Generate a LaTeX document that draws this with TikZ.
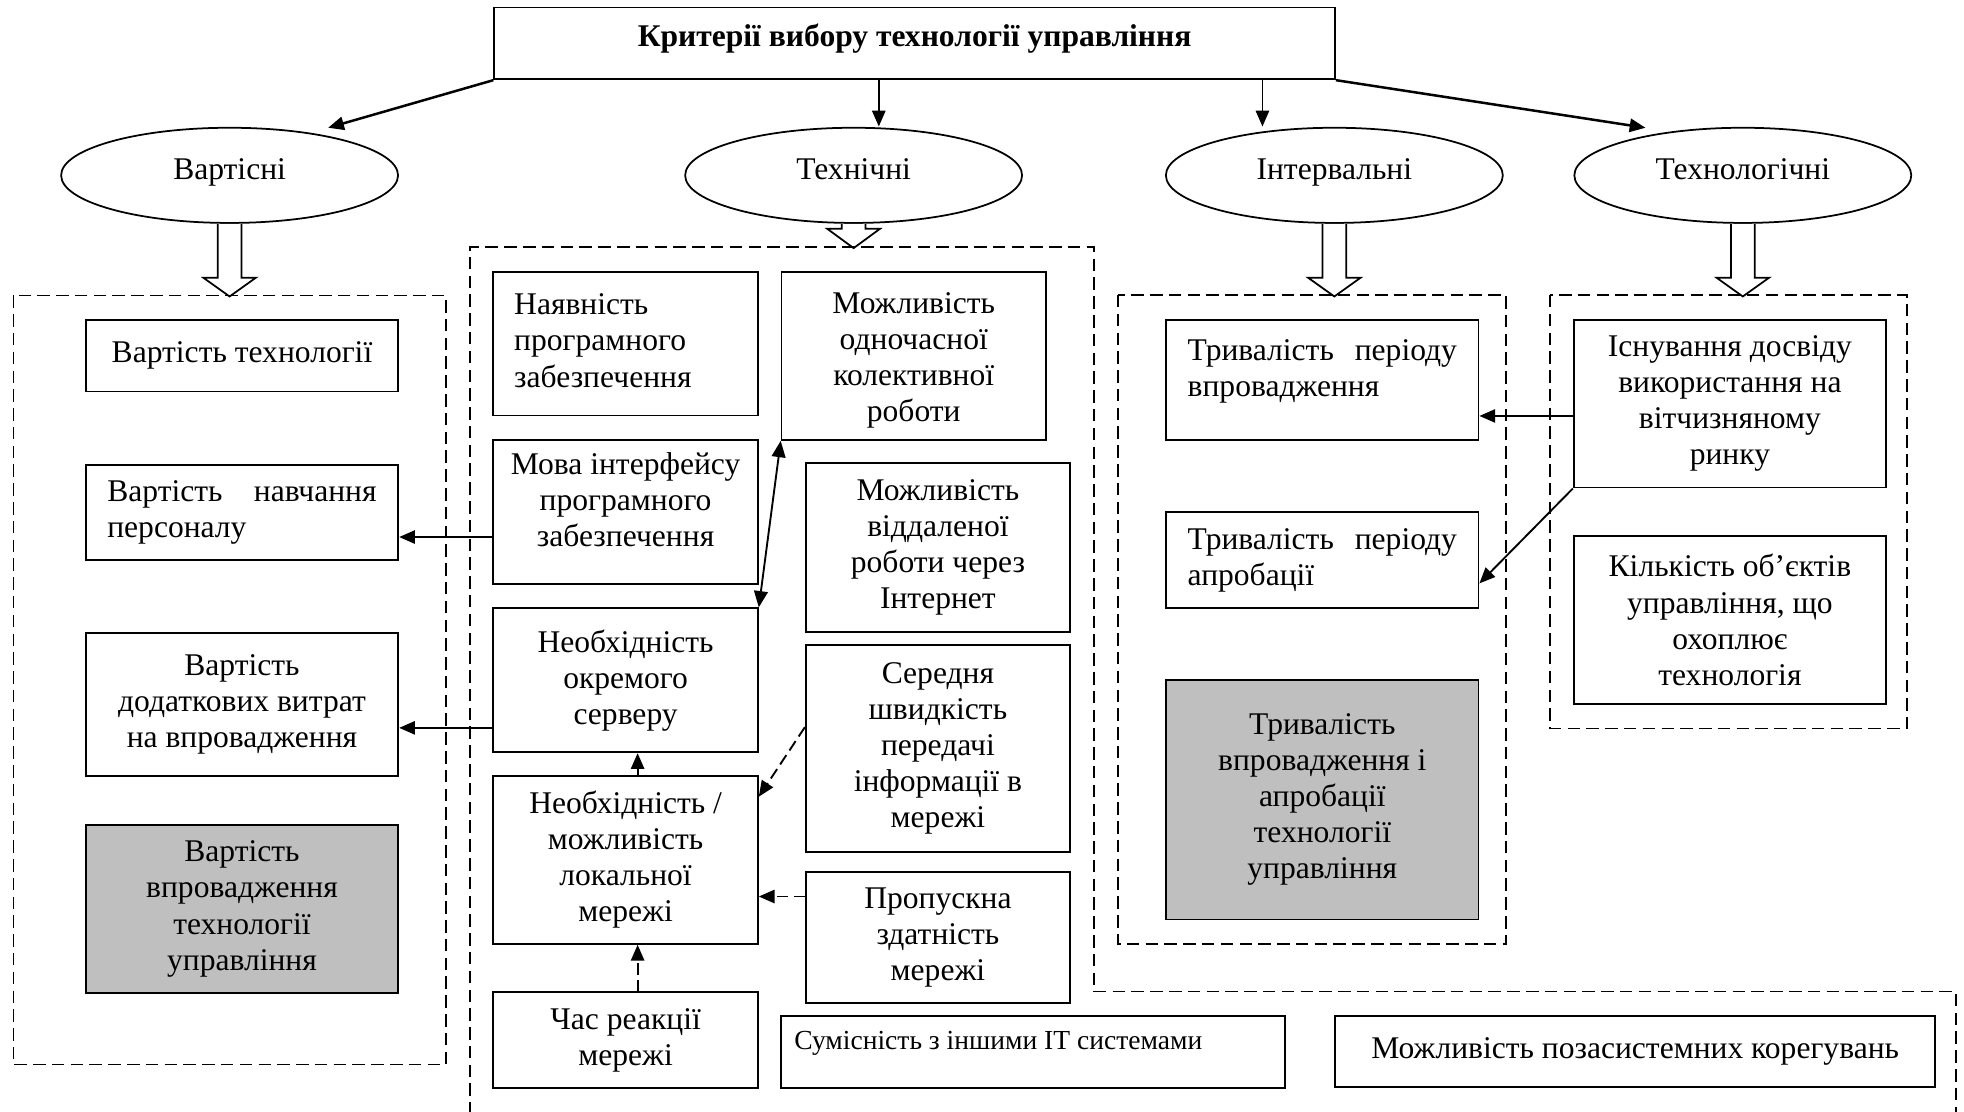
\documentclass[tikz,border=0pt]{standalone}
\usepackage{fontspec}
\setmainfont{Liberation Serif}
\usetikzlibrary{shapes.geometric,arrows.meta}
\begin{document}
\begin{tikzpicture}[x=0.5pt,y=-0.5pt,
  every node/.style={font=\fontsize{12.6}{14.4}\selectfont},
  box/.style={draw, line width=0.7pt, rectangle, inner sep=0pt, align=center},
  gbox/.style={box, fill=black!25},
  wh/.style 2 args={minimum width=#1, minimum height=#2},
  txt/.style={inner sep=0pt, align=center},
  oval/.style={draw, line width=0.7pt, ellipse, inner sep=0pt,
    minimum width=134.5pt, minimum height=38pt, text height=9pt, text depth=6pt},
  tip/.style={Triangle[length=6.3pt,width=5.3pt]},
  arr/.style={line width=0.75pt, -{Triangle[length=6.3pt,width=5.3pt]}},
  twoarr/.style={line width=0.75pt, {Triangle[length=6.5pt,width=5.5pt]}-{Triangle[length=6.5pt,width=5.5pt]}},
  darr/.style={arr, dash pattern=on 4.5pt off 2.2pt},
  grp/.style={line width=0.6pt, dash pattern=on 5pt off 2.5pt},
  hollow/.style={line width=0.7pt, fill=white},
]
\useasboundingbox (0,0) rectangle (1568,887);

% ---------- title and the four groups of criteria ----------
\node[box, wh={335.6pt}{28.7pt}, text height=8.7pt, text depth=6pt,
  font=\fontsize{12.6}{14.4}\selectfont\bfseries]
  (title) at (730.2,34.6) {Критерії вибору технології управління};

\node[oval] (cost)  at (183.3,140)  {Вартісні};
\node[oval] (tech)  at (681.5,140)  {Технічні};
\node[oval] (intv)  at (1065.3,140) {Інтервальні};
\node[oval] (techn) at (1391.4,140) {Технологічні};

\coordinate (costIn)  at (262,102);
\coordinate (techIn)  at (701.6,101);
\coordinate (intvIn)  at (1007.9,101);
\coordinate (technIn) at (1313.7,102);

\draw[arr, line width=1pt] (title.south west) -- (costIn);
\draw[arr] (title.south -| techIn) -- (techIn);
\draw[arr] (title.south -| intvIn) -- (intvIn);
\draw[arr, line width=1pt] (title.south east) -- (technIn);

% hollow block arrows from each group to its frame
\newcommand\blockarrow[3]{%
  \draw[hollow] (#1.south) ++(-9.5,0) -- ++(0,#2) -- ++(-11.5,0) -- ++(21,#3)
    -- ++(21,-#3) -- ++(-11.5,0) -- ++(0,-#2);}
\blockarrow{cost}{43}{15}
\blockarrow{tech}{4}{15.4}
\blockarrow{intv}{43}{15}
\blockarrow{techn}{43}{15}

% ---------- dashed frames ----------
\draw[grp] (10.6,235.8) rectangle (356,850);
\draw[grp] (375.2,890) -- (375.2,197.4) -- (873.5,197.4) -- (873.5,791.7)
  -- (1561.5,791.7) -- (1561.5,890);
\draw[grp] (892.7,235.5) rectangle (1202.3,753.6);
\draw[grp] (1237.5,235.5) rectangle (1522.6,581.5);

% ---------- cost criteria ----------
\node[box, wh={124.8pt}{28.6pt}] (vt) at (193.2,284) {Вартість технології};
\node[box, wh={124.8pt}{37.85pt}, align=left, text width=107.5pt] (vn) at (193.2,409.15)
  {\hbox to 107.5pt{Вартість\hfill навчання}\\персоналу};
\node[box, wh={124.8pt}{57.15pt}] (vd) at (193.2,562.35)
  {Вартість\\додаткових витрат\\на впровадження};
\node[gbox, wh={124.8pt}{67.1pt}] (vv) at (193.2,725.7)
  {Вартість\\впровадження\\технології\\управління};

% ---------- technical criteria ----------
\node[box, wh={105.65pt}{57.45pt}] (nayav) at (499.45,274.35) {};
\node[txt, align=left, text width=88.9pt] (nayavT) at (499.45,272)
  {Наявність\\програмного\\забезпечення};
\node[box, wh={105.65pt}{57.45pt}] (mova) at (499.45,408.75) {};
\node[txt] (movaT) at (499.45,398.75) {Мова інтерфейсу\\програмного\\забезпечення};
\node[box, wh={105.65pt}{57.5pt}] (server) at (499.45,543.1)
  {Необхідність\\окремого\\серверу};
\node[box, wh={105.65pt}{67.05pt}] (local) at (499.45,686.55)
  {Необхідність /\\можливість\\локальної\\мережі};
\node[box, wh={105.65pt}{38.25pt}] (chas) at (499.45,830.45) {Час реакції\\мережі};

\node[box, wh={105.5pt}{67.2pt}] (odnoch) at (729.5,284.1) {};
\node[txt] (odnochT) at (729.5,287.5)
  {Можливість\\одночасної\\колективної\\роботи};
\node[box, wh={105.5pt}{67.2pt}] (viddal) at (748.8,437.1)
  {Можливість\\віддаленої\\роботи через\\Інтернет};
\node[box, wh={105.5pt}{82.5pt}] (seredn) at (748.8,597.5)
  {Середня\\швидкість\\передачі\\інформації в\\мережі};
\node[box, wh={105.5pt}{52.55pt}] (propusk) at (748.8,748.45)
  {Пропускна\\здатність\\мережі};

\node[box, wh={201.1pt}{28.85pt}] (sumisn) at (824.9,839.85) {};
\node[txt, anchor=west, font=\fontsize{11}{13}\selectfont] (sumisnT) at (633.8,833)
  {Сумісність з іншими IT системами};
\node[box, wh={239.5pt}{28.5pt}] (pozasys) at (1305.5,839.5)
  {Можливість позасистемних корегувань};

% ---------- interval criteria ----------
\node[box, wh={124.7pt}{47.9pt}] (trival) at (1055.7,303.4) {};
\node[txt, align=left, text width=107.5pt] (trivalT) at (1055.7,296.4)
  {\hbox to 107.5pt{Тривалість\hfill періоду}\\впровадження};
\node[box, wh={124.7pt}{38.55pt}, align=left, text width=107.5pt] (aprob) at (1055.7,447.05)
  {\hbox to 107.5pt{Тривалість\hfill періоду}\\апробації};
\node[gbox, wh={124.7pt}{95.55pt}] (tva) at (1055.7,638.45)
  {Тривалість\\впровадження і\\апробації\\технології\\управління};

% ---------- technological criteria ----------
\node[box, wh={124.7pt}{66.9pt}] (isnuv) at (1381.1,322.4)
  {Існування досвіду\\використання на\\вітчизняному\\ринку};
\node[box, wh={124.7pt}{67.05pt}] (kilk) at (1381.1,494.95)
  {Кількість об’єктів\\управління, що\\охоплює\\технологія};

% ---------- links between criteria ----------
\draw[arr] ([yshift=-10pt]mova.west) -- ([yshift=-10pt]mova.west -| vn.east);
\draw[arr] ([yshift=-19pt]server.west) -- ([yshift=-19pt]server.west -| vd.east);
\draw[twoarr] (server.north east) -- (odnoch.south west);
\draw[arr] ([xshift=4.8pt]local.north) -- ([xshift=4.8pt]server.south);
\draw[darr] ([yshift=8.5pt]seredn.west) -- ([yshift=25.25pt]local.east);
\draw[darr] ([yshift=16.35pt]propusk.west) -- ([yshift=16.35pt]propusk.west -| local.east);
\draw[darr] ([xshift=4.8pt]chas.north) -- ([xshift=4.8pt]local.south);
\draw[arr] ([yshift=-4.85pt]isnuv.west) -- ([yshift=-4.85pt]isnuv.west -| trival.east);
\draw[arr] (isnuv.south west) -- ([yshift=-9.35pt]aprob.east);
\end{tikzpicture}
\end{document}
